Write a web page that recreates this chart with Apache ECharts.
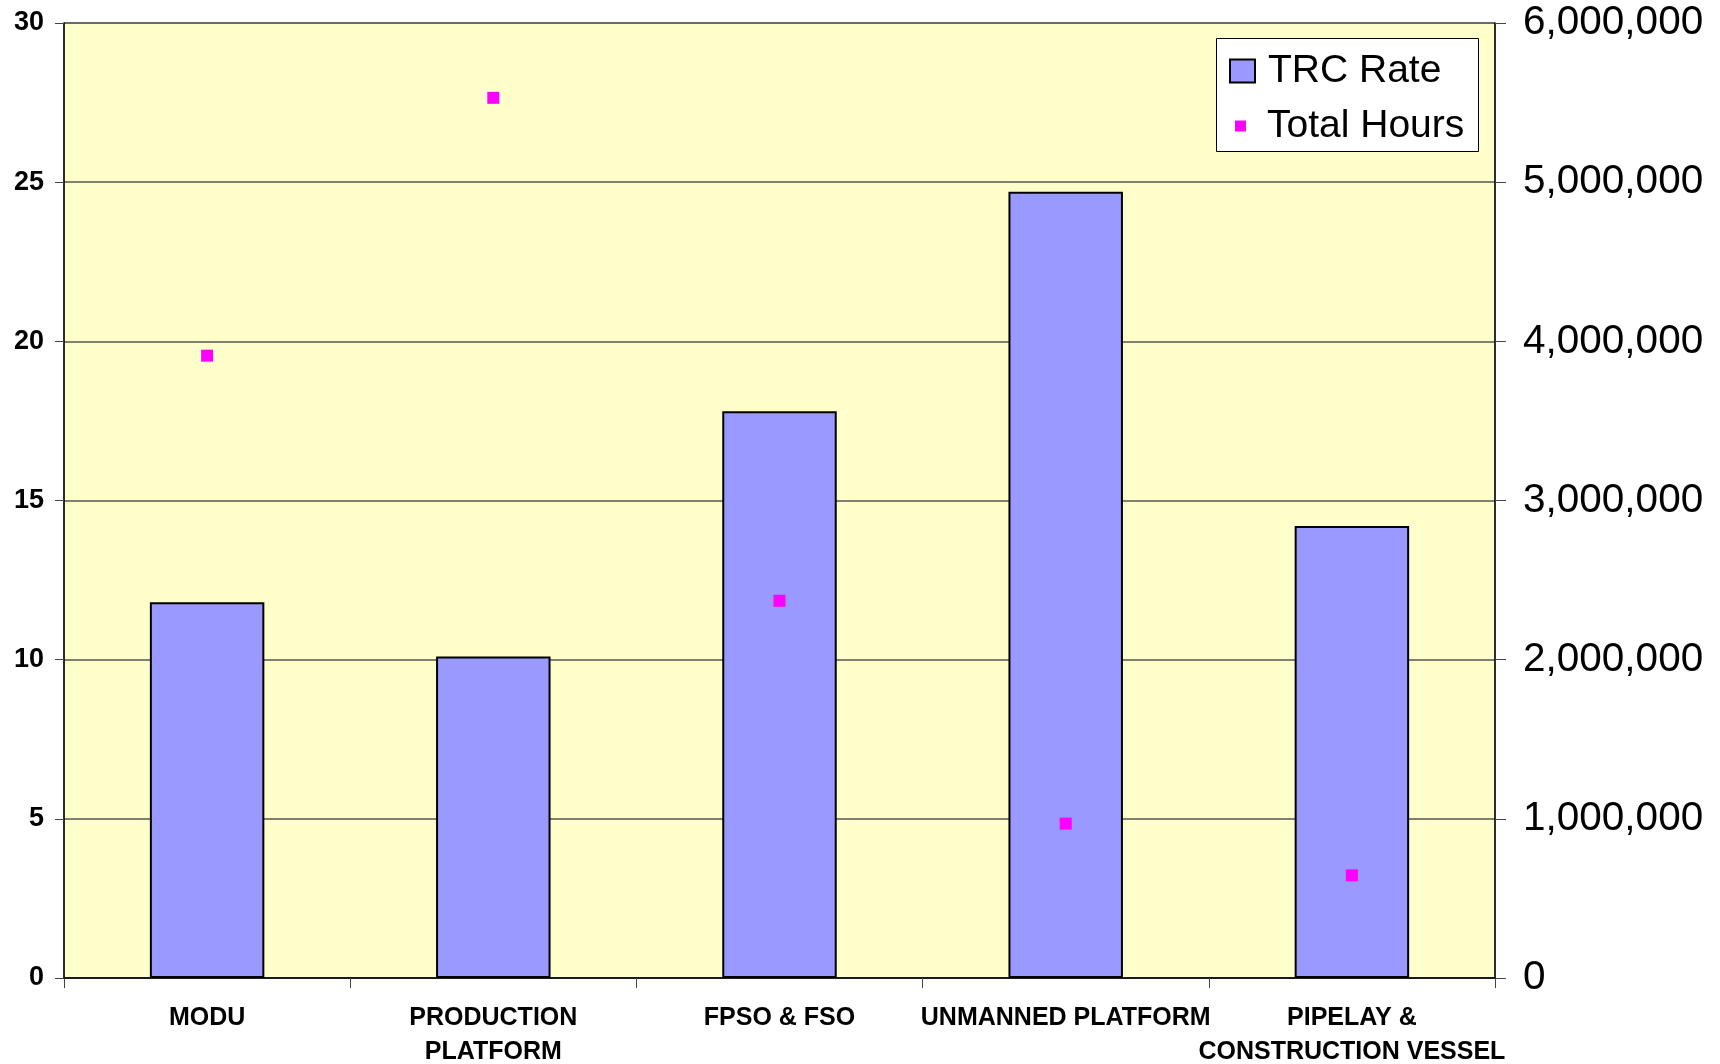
<!DOCTYPE html>
<html>
<head>
<meta charset="utf-8">
<title>TRC Rate / Total Hours</title>
<script src="https://cdn.jsdelivr.net/npm/echarts@6/dist/echarts.min.js"></script>
<style>
html, body { margin: 0; padding: 0; background: #ffffff; }
#main { width: 1720px; height: 1064px; }
</style>
</head>
<body>
<div id="main"></div>
<script>
// 数据
var categories = ['MODU', 'PRODUCTION\nPLATFORM', 'FPSO & FSO', 'UNMANNED PLATFORM', 'PIPELAY &\nCONSTRUCTION VESSEL'];
var trcRate = [11.8, 10.1, 17.8, 24.7, 14.2];
var totalHours = [3910000, 5530000, 2370000, 970000, 645000];
var leftTicks = { min: 0, max: 30, interval: 5 };
var rightTicks = { min: 0, max: 6000000, interval: 1000000 };

var font = "'Liberation Sans', Arial, sans-serif";

function withCommas(v) {
    return String(v).replace(/\B(?=(\d{3})+(?!\d))/g, ',');
}

var myChart = echarts.init(document.getElementById('main'));

var option = {
    animation: false,
    backgroundColor: '#ffffff',
    textStyle: { fontFamily: font },
    grid: {
        left: 64, right: 225, top: 23, bottom: 86,
        show: true,
        backgroundColor: '#FFFFCC',
        borderColor: '#666666',
        borderWidth: 1,
        outerBoundsMode: 'none'
    },
    // 图例边框
    graphic: [{
        type: 'rect',
        left: 1216, top: 38,
        shape: { width: 262, height: 113 },
        style: { fill: '#ffffff', stroke: '#000000', lineWidth: 1 },
        z: 1
    }],
    legend: [{
        data: [{ name: 'TRC Rate', icon: 'rect' }],
        orient: 'vertical',
        left: 1229, top: 49,
        padding: 0,
        itemWidth: 25, itemHeight: 23,
        selectedMode: false,
        z: 5,
        textStyle: { fontFamily: font, fontSize: 39, color: '#000', lineHeight: 44, padding: [0, 0, 0, 8] }
    }, {
        data: [{ name: 'Total Hours', icon: 'rect' }],
        orient: 'vertical',
        left: 1235, top: 104,
        padding: 0,
        itemWidth: 11, itemHeight: 11,
        selectedMode: false,
        z: 5,
        textStyle: { fontFamily: font, fontSize: 39, color: '#000', lineHeight: 44, padding: [0, 0, 0, 16] }
    }],
    xAxis: {
        type: 'category',
        data: categories,
        boundaryGap: true,
        axisLine: { lineStyle: { color: '#000', width: 1.5 } },
        axisTick: { show: true, interval: 0, length: 10, lineStyle: { color: '#444', width: 1 } },
        axisLabel: {
            interval: 0,
            margin: 23,
            fontFamily: font,
            fontSize: 25,
            fontWeight: 'bold',
            color: '#000',
            lineHeight: 34
        }
    },
    yAxis: [{
        type: 'value',
        min: leftTicks.min, max: leftTicks.max, interval: leftTicks.interval,
        axisLine: { show: true, lineStyle: { color: '#000', width: 1.5 } },
        axisTick: { show: true, length: 9, lineStyle: { color: '#444' } },
        axisLabel: { margin: 20, fontFamily: font, fontSize: 27, fontWeight: 'bold', color: '#000' },
        splitLine: { show: true, lineStyle: { color: '#555555', width: 1.5 } }
    }, {
        type: 'value',
        position: 'right',
        min: rightTicks.min, max: rightTicks.max, interval: rightTicks.interval,
        axisLine: { show: true, lineStyle: { color: '#000', width: 1.5 } },
        axisTick: { show: true, length: 11, lineStyle: { color: '#444' } },
        axisLabel: {
            margin: 28, fontFamily: font, fontSize: 40.5, color: '#000',
            formatter: function (v) { return withCommas(v); }
        },
        splitLine: { show: false }
    }],
    series: [{
        name: 'TRC Rate',
        type: 'bar',
        data: trcRate,
        barWidth: '40%',
        itemStyle: { color: '#9999FF', borderColor: '#000000', borderWidth: 2 }
    }, {
        name: 'Total Hours',
        type: 'scatter',
        yAxisIndex: 1,
        data: totalHours,
        symbol: 'rect',
        symbolSize: 12,
        itemStyle: { color: '#FF00FF', opacity: 1 },
        z: 4
    }]
};

myChart.setOption(option);
</script>
</body>
</html>
